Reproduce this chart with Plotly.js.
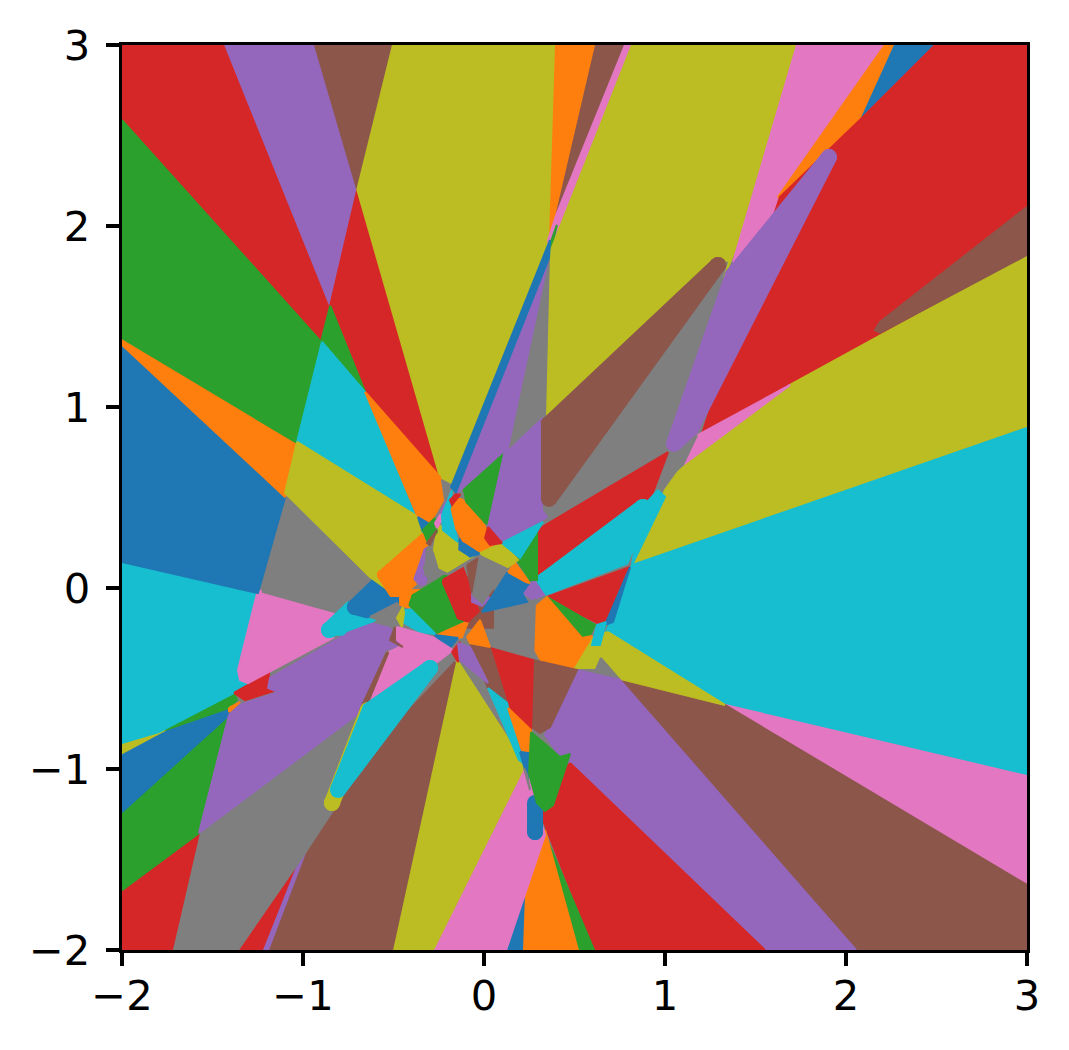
<!DOCTYPE html>
<html><head><meta charset="utf-8">
<script src="https://cdn.plot.ly/plotly-3.0.1.min.js"></script>
<style>html,body{margin:0;padding:0;background:#fff}</style></head><body>
<div id="chart" style="width:1069px;height:1050px"></div>
<script>
const tickValues=[-2,-1,0,1,2,3];
const palette={blue:'#1f77b4',orange:'#ff7f0e',green:'#2ca02c',red:'#d62728',purple:'#9467bd',brown:'#8c564b',pink:'#e377c2',gray:'#7f7f7f',olive:'#bcbd22',cyan:'#17becf'};

const a01x=[-2,-1.43,-0.85,-0.90,-2], a01y=[3,3,1.56,1.36,2.585];
const a02x=[-1.43,-0.934,-0.70,-0.85], a02y=[3,3,2.20,1.56];
const a03x=[-0.934,-0.503,-0.70], a03y=[3,3,2.20];
const a04x=[-0.70,-0.243,-0.657,-0.85], a04y=[2.20,0.613,1.083,1.56];
const a05x=[-0.503,0.392,0.365,0.354,-0.177,-0.243,-0.70], a05y=[3,3,1.95,1.895,0.58,0.613,2.20];
const a06x=[0.398,0.619,0.403,0.365], a06y=[3,3,2.072,1.939];
const a07x=[0.619,0.779,0.409,0.403], a07y=[3,3,2.061,2.072];
const a08x=[0.779,0.823,0.365,0.354,0.403], a08y=[3,3,1.867,1.923,2.072];
const a09x=[0.403,0.37,0.354], a09y=[2.006,1.867,1.867];
const a10x=[0.818,1.729,1.387,1.331,0.326,0.359], a10y=[3,3,1.867,1.729,0.928,1.84];
const a11x=[0.359,0.337,0.127], a11y=[1.84,0.945,0.751];
const a12x=[1.729,2.215,1.624,1.58,1.376], a12y=[3,3,2.16,1.923,1.801];
const a13x=[2.215,2.271,2.088,1.635,1.624], a13y=[3,3,2.597,2.16,2.16];
const a14x=[2.271,2.492,2.088], a14y=[3,3,2.597];
const a15x=[2.492,3,3,1.691,1.193,1.635,2.088], a15y=[3,3,1.84,1.122,0.818,2.16,2.597];
const a16x=[3,3,0.818,1,1.099,1.691], a16y=[1.84,0.884,0.122,0.541,0.68,1.122];
const a17x=[1.691,1.182,1.099], a17y=[1.122,0.845,0.68];
const a18x=[3,3,1.331,0.669,0.818], a18y=[0.884,-1.039,-0.646,-0.26,0.127];
const a19x=[1.331,3,3], a19y=[-0.646,-1.039,-1.641];
const a20x=[0.729,1.331,3,3,2.055], a20y=[-0.497,-0.646,-1.641,-2,-2];
const a21x=[0.685,1.331,0.729,0.641,0.619,0.475,0.56], a21y=[-0.243,-0.646,-0.497,-0.37,-0.442,-0.442,-0.287];
const a22x=[0.646,0.751,0.613], a22y=[-0.387,-0.508,-0.464];
const a23x=[0.514,0.751,2.055,1.552,0.453,0.337], a23y=[-0.453,-0.508,-2,-2,-0.978,-0.812];
const a24x=[0.475,1.552,0.608,0.293], a24y=[-0.967,-2,-2,-1.199];
const a25x=[0.326,0.608,0.519,0.337], a25y=[-1.337,-2,-2,-1.365];
const a26x=[0.337,0.519,0.21,0.221], a26y=[-1.337,-2,-2,-1.707];
const a27x=[0.221,0.21,0.122], a27y=[-1.696,-2,-2];
const a28x=[0.227,0.337,0.221,0.122,-0.282], a28y=[-0.994,-1.365,-1.707,-2,-2];
const a29x=[-0.149,0.227,-0.282,-0.508], a29y=[-0.398,-0.978,-2,-2];
const a30x=[-0.16,-0.508,-1.193,-0.989,-0.768,-0.475], a30y=[-0.409,-2,-2,-1.464,-1.144,-0.74];
const a31x=[-1.033,-1.21,-1.359], a31y=[-1.541,-2,-2];
const a32x=[-0.989,-1.193,-1.215,-1.017], a32y=[-1.464,-2,-2,-1.503];
const a33x=[-1.575,-0.691,-0.796,-0.989,-1.359,-1.724], a33y=[-1.354,-0.691,-1.171,-1.464,-2,-2];
const a34x=[-2,-1.575,-1.724,-2], a34y=[-1.669,-1.354,-2,-2];
const a35x=[-2,-1.409,-1.575,-2], a35y=[-1.238,-0.702,-1.354,-1.669];
const a36x=[-2,-1.762,-1.392,-1.409,-2], a36y=[-0.906,-0.785,-0.652,-0.702,-1.238];
const a37x=[-1.796,-1.381,-1.365,-1.409,-1.762], a37y=[-0.796,-0.58,-0.619,-0.663,-0.785];
const a38x=[-2,-1.796,-1.762,-2], a38y=[-0.856,-0.796,-0.785,-0.912];
const a39x=[-2,-1.243,-1.359,-1.304,-1.381,-1.796,-2], a39y=[0.144,-0.039,-0.464,-0.525,-0.58,-0.796,-0.856];
const a40x=[-1.381,-1.188,-1.188,-1.144,-1.32], a40y=[-0.58,-0.47,-0.536,-0.564,-0.619];
const a41x=[-1.409,-1.575,-0.691,-0.547,-0.464,-0.519,-0.646,-1.182,-1.193,-1.138,-1.348], a41y=[-0.702,-1.354,-0.691,-0.343,-0.315,-0.221,-0.188,-0.497,-0.552,-0.575,-0.646];
const a42x=[-1.409,-1.348,-1.409], a42y=[-0.663,-0.63,-0.685];
const a43x=[-1.249,-0.823,-0.895,-0.834,-1.304,-1.348,-1.359], a43y=[-0.011,-0.133,-0.232,-0.276,-0.525,-0.508,-0.453];
const a45x=[-1.099,-0.619,-0.768,-0.823,-1.221,-1.232], a45y=[0.503,0.061,-0.094,-0.133,-0.022,0.028];
const a44x=[-0.856,-0.74,-0.63,-0.796], a44y=[-0.232,-0.122,-0.149,-0.221];
const a46x=[-0.713,-0.575,-0.492,-0.646], a46y=[-0.105,0.028,-0.066,-0.122];
const a47x=[-2,-1.099,-1.249,-2], a47y=[1.354,0.503,-0.028,0.144];
const a48x=[-2,-1.039,-1.099,-2], a48y=[1.381,0.807,0.503,1.343];
const a49x=[-2,-0.90,-1.033,-2], a49y=[2.585,1.36,0.801,1.381];
const a50x=[-0.85,-0.657,-0.895,-0.90], a50y=[1.56,1.083,1.343,1.36];
const a51x=[-0.895,-0.657,-0.381,-1.033], a51y=[1.36,1.083,0.398,0.807];
const a52x=[-0.657,-0.243,-0.215,-0.298,-0.37], a52y=[1.083,0.613,0.503,0.359,0.403];
const a53x=[-1.033,-1.099,-0.63,-0.53,-0.298,-0.381], a53y=[0.807,0.525,0.061,-0.01,0.26,0.403];
const a54x=[-0.365,-0.309,-0.337], a54y=[0.392,0.359,0.309];
const a55x=[-0.564,-0.331,-0.331,-0.414,-0.403,-0.464,-0.503], a55y=[0.072,0.276,0.238,0.055,0.028,-0.022,-0.022];
const u01x=[-0.464,-0.354,-0.409,-0.464], u01y=[-0.011,-0.011,-0.11,-0.094];
const a56x=[-0.309,-0.359,-0.343], a56y=[0.199,0.055,0.039];
const a57x=[-0.293,-0.309,-0.304,-0.282,-0.227], a57y=[0.21,0.11,0.088,0.066,0.099];
const a58x=[-0.238,-0.254,-0.227,-0.204,-0.077,-0.144], a58y=[0.32,0.215,0.127,0.116,0.193,0.232];
const a59x=[-0.271,-0.337,-0.309,-0.26], a59y=[0.387,0.32,0.249,0.31];
const a60x=[-0.26,-0.315,-0.298], a60y=[0.32,0.249,0.238];
const a61x=[-0.232,-0.271,-0.26,-0.227], a61y=[0.42,0.359,0.331,0.387];
const a62x=[-0.204,-0.243,-0.21], a62y=[0.486,0.414,0.431];
const a63x=[-0.177,-0.232,-0.227,-0.144,-0.16,-0.188], a63y=[0.541,0.403,0.32,0.254,0.32,0.431];
const a64x=[-0.133,-0.133,-0.077,-0.017], a64y=[0.265,0.215,0.177,0.193];
const a65x=[-0.133,-0.155,-0.133,-0.099,-0.022,0.022,-0.022], a65y=[0.47,0.431,0.337,0.276,0.227,0.238,0.348];
const a66x=[-0.149,-0.188,-0.177,-0.133], a66y=[0.525,0.486,0.459,0.514];
const a67x=[0.116,-0.088,-0.077,0.022], a67y=[0.735,0.541,0.486,0.376];
const a68x=[0.359,0.127,0.326,0.32,0.348,0.088,0.033,0.022,0.116,-0.149], a68y=[1.84,0.751,0.939,0.431,0.392,0.249,0.282,0.337,0.762,0.525];
const a69x=[0.365,0.359,-0.155,-0.182], a69y=[1.923,1.823,0.53,0.558];
const a70x=[1.343,1.017,0.348,0.326], a70y=[1.801,0.751,0.381,0.928];
const a71x=[1.177,1.099,0.972,1.017], a71y=[0.845,0.68,0.569,0.751];
const a72x=[1.906,1.144,1.05,1.376], a72y=[2.381,0.884,0.796,1.729];
const a73x=[1.293,0.359,0.359], a73y=[1.785,0.492,0.906];
const a74x=[3,2.188,2.16,2.188,3], a74y=[2.105,1.47,1.425,1.409,1.84];
const a75x=[1.017,0.293,0.293,0.917], a75y=[0.751,0.32,0.055,0.486];
const a76x=[0.807,0.348,0.624,0.669], a76y=[0.116,-0.05,-0.193,-0.204];
const a77x=[0.961,1,0.818,0.862], a77y=[0.541,0.503,0.127,0.431];
const a78x=[0.21,0.293,0.348,0.271], a78y=[-0.022,0.055,-0.028,-0.066];
const a79x=[0.878,0.762,0.359,0.337], a79y=[0.448,0.166,0.011,0.044];
const a80x=[0.807,0.713,0.669], a80y=[0.116,-0.188,-0.204];
const a81x=[0.674,0.641,0.597,0.624], a81y=[-0.188,-0.315,-0.315,-0.204];
const a82x=[0.348,0.613,0.586,0.541], a82y=[-0.05,-0.204,-0.26,-0.276];
const a83x=[0.282,0.348,0.541,0.597,0.492,0.32,0.282], a83y=[-0.105,-0.05,-0.276,-0.265,-0.442,-0.409,-0.343];
const a84x=[-0.011,0.282,0.271,0.033], a84y=[-0.166,-0.066,-0.398,-0.331];
const a85x=[0.271,0.514,0.365,0.309,0.265], a85y=[-0.398,-0.453,-0.768,-0.801,-0.768];
const a86x=[0.033,0.271,0.26,0.133], a86y=[-0.331,-0.398,-0.785,-0.657];
const a87x=[-0.077,0.033,0.127,0.022], a87y=[-0.315,-0.331,-0.635,-0.552];
const a88x=[0.022,0.127,0.215,0.193], a88y=[-0.552,-0.635,-0.967,-0.95];
const a89x=[0.133,0.26,0.254,0.21], a89y=[-0.663,-0.785,-0.912,-0.895];
const a90x=[0.199,0.249,0.243,0.227], a90y=[-0.906,-0.912,-1.061,-1.006];
const a91x=[0.221,0.254,0.238], a91y=[-0.994,-1.116,-1.033];
const a92x=[0.282,0.282], a92y=[-1.348,-1.188];
const a93x=[0.26,0.42,0.475,0.381,0.337,0.293,0.249], a93y=[-0.796,-0.934,-0.917,-1.199,-1.232,-1.188,-1.022];
const a94x=[-0.232,-0.199,-0.215], a94y=[0.597,0.541,0.486];
const u02x=[-0.16,0.05,0.05,-0.16], u02y=[0.06,0.06,-0.22,-0.22];
const b01x=[-0.215,-0.133,-0.254,-0.387,-0.376], b01y=[0.044,-0.166,-0.221,-0.088,-0.055];
const b02x=[-0.204,-0.127,-0.055,-0.094,-0.127], b02y=[0.033,0.077,-0.122,-0.16,-0.149];
const b03x=[-0.094,-0.022,-0.066], b03y=[0.127,0.171,-0.028];
const b04x=[-0.066,0.033,-0.011,-0.066], b04y=[-0.011,-0.055,-0.099,-0.077];
const b05x=[-0.022,0.133,-0.011,-0.061], b05y=[0.182,0.11,-0.083,-0.039];
const b06x=[-0.011,0.127,0.254,0.21,0.238], b06y=[-0.133,0.083,0.033,-0.028,-0.077];
const b07x=[0.133,0.171,0.254,0.232], b07y=[0.088,0.138,0.028,0.033];
const b08x=[0.182,0.293,0.293,0.254], b08y=[0.155,0.32,0.044,0.044];
const b09x=[-0.022,0.099,0.188,0.133,-0.006], b09y=[0.193,0.249,0.155,0.116,0.182];
const b10x=[0.099,0.326,0.199,0.144], b10y=[0.249,0.365,0.166,0.21];
const b11x=[0.022,0.006,0.033,0.099], b11y=[0.337,0.276,0.238,0.249];
const b12x=[-0.26,-0.2,-0.088,-0.122,-0.177], b12y=[-0.254,-0.12,-0.188,-0.271,-0.287];
const b13x=[-0.453,-0.436,-0.3,-0.271,-0.354,-0.448], b13y=[-0.138,-0.122,-0.1,-0.254,-0.243,-0.188];
const b14x=[-0.63,-0.481,-0.453,-0.481,-0.575], b14y=[-0.16,-0.083,-0.133,-0.204,-0.177];
const b15x=[-0.448,-0.481,-0.453,-0.442], b15y=[-0.105,-0.166,-0.215,-0.138];
const b16x=[-0.271,-0.144,-0.188,-0.227], b16y=[-0.26,-0.276,-0.331,-0.315];
const b17x=[-0.094,-0.022,0.033,-0.077], b17y=[-0.271,-0.177,-0.326,-0.304];
const b18x=[-0.481,-0.282,-0.171,-0.315,-0.63,-0.536,-0.448,-0.492], b18y=[-0.215,-0.271,-0.343,-0.453,-0.635,-0.359,-0.315,-0.276];
const b19x=[-0.492,-0.519,-0.448,-0.492], b19y=[-0.215,-0.287,-0.326,-0.298];
const b20x=[-0.536,-0.685,-0.646,-0.53], b20y=[-0.354,-0.674,-0.646,-0.359];
const b21x=[-0.177,-0.133,-0.144], b21y=[-0.354,-0.298,-0.409];
const b22x=[-0.144,-0.077,0.022,-0.133], b22y=[-0.304,-0.326,-0.525,-0.398];
const b23x=[-0.84,-0.641], b23y=[-1.188,-0.674];
const b24x=[-0.298,-0.63,-0.807], b24y=[-0.442,-0.674,-1.116];

const regions=[
[a01x,a01y,'red'],[a02x,a02y,'purple'],[a03x,a03y,'brown'],[a04x,a04y,'red'],[a05x,a05y,'olive'],
[a06x,a06y,'orange'],[a07x,a07y,'brown'],[a08x,a08y,'pink'],[a09x,a09y,'green'],[a10x,a10y,'olive'],
[a11x,a11y,'gray'],[a12x,a12y,'pink'],[a13x,a13y,'orange'],[a14x,a14y,'blue'],[a15x,a15y,'red'],
[a16x,a16y,'olive'],[a17x,a17y,'pink'],[a18x,a18y,'cyan'],[a19x,a19y,'pink'],[a20x,a20y,'brown'],
[a21x,a21y,'olive'],[a22x,a22y,'gray'],[a23x,a23y,'purple'],[a24x,a24y,'red'],[a25x,a25y,'green'],
[a26x,a26y,'orange'],[a27x,a27y,'blue'],[a28x,a28y,'pink'],[a29x,a29y,'olive'],[a30x,a30y,'brown'],
[a31x,a31y,'red'],[a32x,a32y,'purple'],[a33x,a33y,'gray'],[a34x,a34y,'red'],[a35x,a35y,'green'],
[a36x,a36y,'blue'],[a37x,a37y,'green'],[a38x,a38y,'olive'],[a39x,a39y,'cyan'],[a40x,a40y,'red'],
[a41x,a41y,'purple'],[a42x,a42y,'orange'],[a43x,a43y,'pink'],[a45x,a45y,'gray'],[a44x,a44y,'cyan',16],
[a46x,a46y,'blue',16],[a47x,a47y,'blue'],[a48x,a48y,'orange'],[a49x,a49y,'green'],[a50x,a50y,'green'],
[a51x,a51y,'cyan'],[a52x,a52y,'orange'],[a53x,a53y,'olive'],[a54x,a54y,'blue'],[u01x,u01y,'orange'],[a55x,a55y,'orange',10],
[a56x,a56y,'purple',10],[a57x,a57y,'gray',10],[a58x,a58y,'olive',10],[a59x,a59y,'green'],[a60x,a60y,'brown'],
[a61x,a61y,'pink'],[a62x,a62y,'purple'],[a94x,a94y,'gray'],[a63x,a63y,'cyan'],[a64x,a64y,'blue',3],[a65x,a65y,'orange',10],
[a66x,a66y,'red'],[a70x,a70y,'gray'],[a71x,a71y,'gray'],[a67x,a67y,'green',10],[a68x,a68y,'purple'],[a69x,a69y,'blue'],
[a72x,a72y,'purple',16],[a73x,a73y,'brown',16],[a74x,a74y,'brown'],[a75x,a75y,'red'],[a76x,a76y,'red'],
[a77x,a77y,'cyan'],[a78x,a78y,'purple'],[a79x,a79y,'cyan',16],[a80x,a80y,'blue'],[a81x,a81y,'cyan'],
[a82x,a82y,'green'],[a83x,a83y,'orange'],[a84x,a84y,'gray'],[a85x,a85y,'brown'],[a86x,a86y,'red'],
[a87x,a87y,'brown'],[a88x,a88y,'cyan'],[a89x,a89y,'orange'],[a90x,a90y,'blue'],[a91x,a91y,'gray'],
[a92x,a92y,'blue',16],[a93x,a93y,'green'],
[u02x,u02y,'brown'],[b12x,b12y,'orange'],[b13x,b13y,'cyan'],[b14x,b14y,'gray'],[b15x,b15y,'olive'],
[b01x,b01y,'green',10],[b02x,b02y,'red',10],[b04x,b04y,'purple'],[b03x,b03y,'brown'],[b05x,b05y,'gray'],
[b06x,b06y,'blue'],[b07x,b07y,'orange'],[b08x,b08y,'green'],[b09x,b09y,'olive'],[b10x,b10y,'cyan'],
[b11x,b11y,'red'],
[b16x,b16y,'blue'],[b17x,b17y,'orange'],[b18x,b18y,'pink'],[b19x,b19y,'brown'],[b20x,b20y,'brown'],
[b21x,b21y,'red'],[b22x,b22y,'purple'],[b23x,b23y,'olive',16],[b24x,b24y,'cyan',16]
];

const traces=regions.map(([x,y,name,round])=>({
  type:'scatter',
  x:x.concat(x[0]),y:y.concat(y[0]),
  mode:round?'lines+markers':'lines',
  fill:'toself',fillcolor:palette[name],
  line:{color:palette[name],width:round||2},
  marker:{color:palette[name],size:round||2},
  hoverinfo:'skip',showlegend:false
}));

const axis={range:[-2,3],tickvals:tickValues,ticks:'outside',ticklen:13,tickwidth:3.3,tickcolor:'#000',
  showline:true,linecolor:'#000',linewidth:3.3,mirror:true,showgrid:false,zeroline:false,
  tickfont:{family:'DejaVu Sans',size:41.67,color:'#000'}};
Plotly.newPlot('chart',traces,{
  width:1069,height:1050,margin:{l:122,r:42,t:45,b:100,pad:0},
  paper_bgcolor:'#fff',plot_bgcolor:'#7f7f7f',showlegend:false,
  xaxis:Object.assign({},axis,{ticklabelstandoff:-6}),yaxis:Object.assign({},axis,{ticklabelstandoff:7})
},{displayModeBar:false,staticPlot:true});
</script></body></html>
